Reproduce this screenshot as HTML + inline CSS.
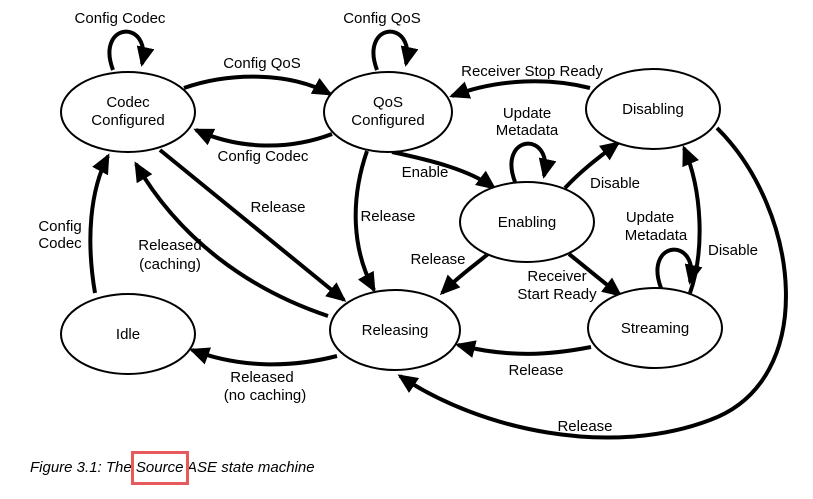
<!DOCTYPE html>
<html><head><meta charset="utf-8"><style>
body{margin:0;background:#fff;}
svg{display:block;font-family:"Liberation Sans",sans-serif;}
</style></head><body>
<svg width="813" height="499" viewBox="0 0 813 499" xmlns="http://www.w3.org/2000/svg">
<defs>
<marker id="a" markerWidth="20" markerHeight="18" refX="17" refY="9" orient="auto" markerUnits="userSpaceOnUse">
<path d="M0,0 L20,9 L0,18 z" fill="#000"/>
</marker>
</defs>
<g fill="none" stroke="#000" stroke-width="4" marker-end="url(#a)">
<path d="M113,70 C95,22 152,18 142,64"/>
<path d="M377,70 C359,22 416,18 406,64"/>
<path d="M515,182 C497,134 554,130 544,176"/>
<path d="M661,288 C643,240 700,236 690,282"/>
<path d="M184,88 C230,72 290,72 330,94"/>
<path d="M332,134 C290,150 240,150 196,130"/>
<path d="M392,152 C430,160 470,170 494,188"/>
<path d="M367,151 C350,200 352,250 374,290"/>
<path d="M160,150 L344,300"/>
<path d="M328,316 C250,290 180,240 136,164"/>
<path d="M95,293 C86,240 90,190 108,156"/>
<path d="M337,356 C290,368 240,368 192,350"/>
<path d="M590,88 C550,78 500,78 452,96"/>
<path d="M565,188 C580,172 595,160 618,143"/>
<path d="M488,254 C475,265 460,275 442,293"/>
<path d="M569,254 C583,265 598,278 620,295"/>
<path d="M690,293 C705,250 702,190 684,148"/>
<path d="M591,347 C550,355 510,358 458,345"/>
<path d="M717,128 C800,210 820,380 710,420 C610,458 480,430 400,376"/>
</g>
<g fill="#fff" stroke="#000" stroke-width="2">
<ellipse cx="128" cy="112" rx="67" ry="40"/>
<ellipse cx="388" cy="112" rx="64" ry="40"/>
<ellipse cx="653" cy="109" rx="67" ry="40"/>
<ellipse cx="527" cy="222" rx="67" ry="40"/>
<ellipse cx="655" cy="328" rx="67" ry="40"/>
<ellipse cx="395" cy="330" rx="65" ry="40"/>
<ellipse cx="128" cy="334" rx="67" ry="40"/>
</g>
<g font-size="15" fill="#000" text-anchor="middle">
<text x="128" y="107">Codec</text><text x="128" y="125">Configured</text>
<text x="388" y="107">QoS</text><text x="388" y="125">Configured</text>
<text x="653" y="114">Disabling</text>
<text x="527" y="227">Enabling</text>
<text x="655" y="333">Streaming</text>
<text x="395" y="335">Releasing</text>
<text x="128" y="339">Idle</text>
<text x="120" y="23">Config Codec</text>
<text x="382" y="23">Config QoS</text>
<text x="262" y="68">Config QoS</text>
<text x="263" y="161">Config Codec</text>
<text x="532" y="76">Receiver Stop Ready</text>
<text x="527" y="118">Update</text><text x="527" y="135">Metadata</text>
<text x="425" y="177">Enable</text>
<text x="615" y="188">Disable</text>
<text x="650" y="222">Update</text><text x="656" y="240">Metadata</text>
<text x="733" y="255">Disable</text>
<text x="388" y="221">Release</text>
<text x="278" y="212">Release</text>
<text x="170" y="250">Released</text><text x="170" y="269">(caching)</text>
<text x="60" y="231">Config</text><text x="60" y="248">Codec</text>
<text x="438" y="264">Release</text>
<text x="557" y="281">Receiver</text><text x="557" y="299">Start Ready</text>
<text x="536" y="375">Release</text>
<text x="262" y="382">Released</text><text x="265" y="400">(no caching)</text>
<text x="585" y="431">Release</text>
</g>
<text x="30" y="472" font-size="15" font-style="italic" fill="#000">Figure 3.1: The Source ASE state machine</text>
<rect x="132.5" y="452.5" width="55" height="31" fill="none" stroke="#e85a5a" stroke-width="3"/>
</svg>
</body></html>
